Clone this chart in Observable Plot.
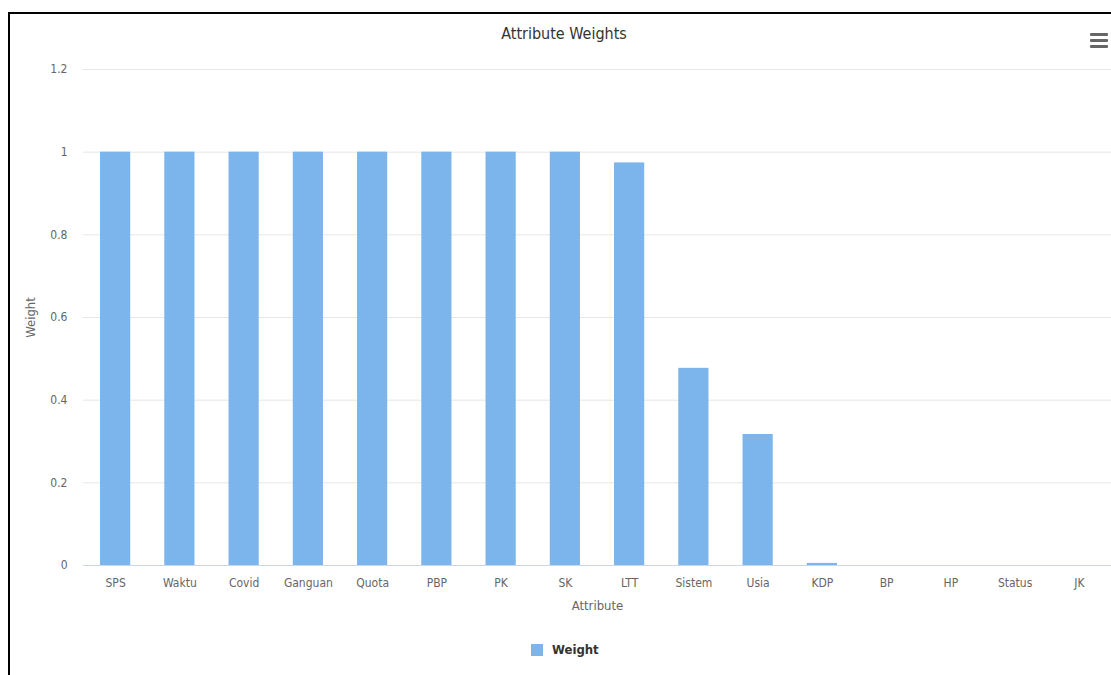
<!DOCTYPE html>
<html>
<head>
<meta charset="utf-8">
<script src="https://cdn.jsdelivr.net/npm/d3@7"></script>
<script src="https://cdn.jsdelivr.net/npm/@observablehq/plot@0.6"></script>
<style>
  html, body { margin: 0; padding: 0; background: #fff; overflow: hidden; width: 1111px; height: 675px; }
  #frame { position: absolute; left: 8px; top: 12px; width: 1300px; height: 900px; border: 2px solid #000; box-sizing: border-box; }
  #chart { position: absolute; left: 0; top: 0; }
  #title { position: absolute; left: 364px; width: 400px; top: 24px; text-align: center; font-family: "DejaVu Sans Condensed", "DejaVu Sans", sans-serif; font-size: 16px; color: #333; }
  #legend { position: absolute; top: 642px; left: 531px; font-family: "DejaVu Sans Condensed", "DejaVu Sans", sans-serif; font-size: 13px; font-weight: bold; color: #333; display: flex; align-items: center; }
  #legend .sw { width: 12px; height: 12px; background: #7cb5ec; margin-right: 9px; }
  .menu { position: absolute; left: 1090px; width: 18px; height: 3px; background: #666; border-radius: 1px; }
</style>
</head>
<body>
<div id="frame"></div>
<div id="chart"></div>
<div id="title">Attribute Weights</div>
<div class="menu" style="top:33px"></div>
<div class="menu" style="top:39px"></div>
<div class="menu" style="top:45px"></div>
<div id="legend"><div class="sw"></div><span>Weight</span></div>
<script>
const attributes = ["SPS", "Waktu", "Covid", "Ganguan", "Quota", "PBP", "PK", "SK", "LTT", "Sistem", "Usia", "KDP", "BP", "HP", "Status", "JK"];
const weights = [1, 1, 1, 1, 1, 1, 1, 1, 0.974, 0.477, 0.317, 0.005, 0, 0, 0, 0];
const yTicks = [0, 0.2, 0.4, 0.6, 0.8, 1, 1.2];
const yTitle = "Weight";
const xTitle = "Attribute";

const data = attributes.map((a, i) => ({attribute: a, weight: weights[i]}));
const font = "'DejaVu Sans Condensed', 'DejaVu Sans', sans-serif";

const chart = Plot.plot({
  width: 1111,
  height: 620,
  marginLeft: 83,
  marginRight: 0,
  marginTop: 69,
  marginBottom: 55,
  style: {fontFamily: font, fontSize: "12px", color: "#666", background: "transparent"},
  x: {domain: attributes, paddingInner: 0.53, paddingOuter: 0.265, round: false, label: null},
  y: {domain: [0, 1.2], label: null},
  marks: [
    Plot.gridY(yTicks, {stroke: "#e6e6e6", strokeOpacity: 1}),
    Plot.barY(data, {x: "attribute", y: "weight", fill: "#7cb5ec"}),
    Plot.ruleY([0], {stroke: "#ccd6eb", strokeOpacity: 1}),
    Plot.axisX({tickSize: 0, tickPadding: 13, label: null, fill: "#666", fontSize: 12}),
    Plot.axisY(yTicks, {tickSize: 0, tickPadding: 16, label: null, fill: "#666", fontSize: 12, tickFormat: d => String(+d.toFixed(1))}),
    Plot.text([xTitle], {frameAnchor: "bottom", dy: 44, fill: "#666", fontSize: 13}),
    Plot.text([yTitle], {frameAnchor: "left", dx: -53, rotate: -90, textAnchor: "middle", fill: "#666", fontSize: 13})
  ]
});
document.getElementById("chart").appendChild(chart);
</script>
</body>
</html>
